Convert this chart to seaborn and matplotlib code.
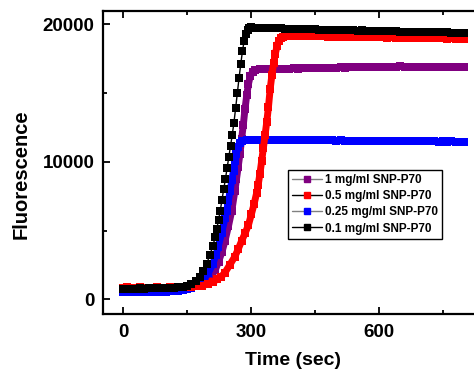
import matplotlib
matplotlib.use("Agg")
import matplotlib.pyplot as plt
from matplotlib.lines import Line2D
from matplotlib.ticker import MultipleLocator
import seaborn as sns

# ---- data: fluorescence (a.u.) versus time (s) ----
plateau_t = list(range(310, 801, 10))
base_t = list(range(0, 131, 10))

t_black = base_t + [140, 150, 160, 170, 180, 188, 196, 204, 210, 216, 220, 224, 228,
                    232, 236, 240, 244, 248, 252, 256, 260, 264, 268, 272, 276, 280,
                    284, 288, 292, 296, 300] + plateau_t
f_black = [780, 790, 780, 790, 800, 790, 800, 800, 810, 800, 810, 820, 850, 880,
           930, 1000, 1120, 1330, 1650, 2050, 2600, 3250, 3850, 4500, 5150, 5800, 6450,
           7250, 8000, 8750, 9550, 10350, 11150, 11950, 12850, 13900, 15000, 16100, 17100, 18050,
           18800, 19300, 19600, 19750, 19780,
           19760, 19740, 19720, 19730, 19700, 19690, 19700, 19680, 19660, 19670,
           19650, 19640, 19650, 19630, 19620, 19600, 19610, 19590, 19580, 19590,
           19570, 19560, 19570, 19550, 19540, 19560, 19530, 19520, 19530, 19510,
           19500, 19490, 19500, 19480, 19470, 19460, 19470, 19450, 19440, 19450,
           19430, 19420, 19430, 19410, 19400, 19410, 19390, 19380, 19390, 19370]

t_purple = base_t + [140, 150, 160, 170, 180, 190, 200, 208, 216, 224, 232, 239, 247,
                     255, 262, 266, 270, 274, 278, 282, 286, 290, 294, 298, 304] + plateau_t
f_purple = [760] * 14 + [800, 850, 920, 1000, 1100, 1250, 1450, 1750, 2120, 2750, 3450, 4250, 5300,
           6450, 7850, 8750, 9650, 10550, 11650, 12700, 13850, 14850, 15650, 16200, 16550,
           16700, 16740, 16730, 16750, 16760, 16740, 16770, 16760, 16780, 16790,
           16770, 16800, 16810, 16790, 16820, 16830, 16810, 16840, 16850, 16830,
           16860, 16850, 16870, 16880, 16860, 16890, 16880, 16900, 16890, 16910,
           16900, 16920, 16900, 16910, 16930, 16910, 16920, 16900, 16920, 16910,
           16900, 16920, 16910, 16900, 16920, 16900, 16910, 16890, 16900, 16900]

t_blue = base_t + [140, 150, 160, 169, 180, 190, 200, 210, 218, 223, 231, 239, 243,
                   247, 251, 255, 259, 263, 266, 270, 274, 280, 290, 300] + plateau_t
f_blue = [560, 550, 560, 550, 560, 560, 550, 560, 570, 560, 570, 580, 600, 630,
          670, 730, 840, 1000, 1250, 1520, 1900, 2550, 3250, 3800, 4800, 5900, 6450,
          7150, 7900, 8650, 9350, 10050, 10600, 11100, 11400, 11530, 11580, 11600,
          11600, 11590, 11600, 11610, 11590, 11600, 11590, 11600, 11580, 11590,
          11580, 11570, 11580, 11570, 11560, 11570, 11550, 11560, 11550, 11540,
          11550, 11540, 11530, 11540, 11530, 11520, 11530, 11520, 11510, 11520,
          11510, 11500, 11510, 11500, 11490, 11500, 11490, 11500, 11480, 11490,
          11480, 11490, 11480, 11470, 11480, 11470, 11480, 11470, 11460, 11470]

t_red = base_t + [140, 150, 160, 170, 184, 200, 210, 220, 230, 239, 250, 262, 270, 278,
                  286, 294, 301, 307, 313, 317, 321, 325, 329, 333, 337, 341, 345, 349,
                  353, 357, 361, 365, 370, 376, 383] + list(range(390, 801, 10))
f_red = [860, 870, 850, 860, 870, 860, 850, 860, 870, 860, 860, 870, 860, 870,
         880, 890, 910, 940, 980, 1130, 1250, 1450, 1650, 1950, 2500, 3100, 3650, 4250,
         4800, 5400, 6200, 6900, 7700, 8350, 9150, 10050, 11000, 11950, 12900, 14000, 15300, 16300,
         17150, 17850, 18400, 18800, 19000, 19100, 19140,
         19150, 19140, 19150, 19130, 19140, 19120, 19130, 19110, 19120, 19100,
         19110, 19090, 19100, 19080, 19090, 19070, 19080, 19060, 19070, 19050,
         19060, 19040, 19050, 19030, 19040, 19020, 19030, 19010, 19020, 19000,
         19010, 18990, 19000, 18980, 18990, 18970, 18980, 18960, 18970, 18950,
         18960, 18940]

labels = ["1 mg/ml SNP-P70", "0.5 mg/ml SNP-P70", "0.25 mg/ml SNP-P70", "0.1 mg/ml SNP-P70"]
colors = ["#800080", "#ff0000", "#0000ff", "#000000"]
legend_line_colors = ["#808080", "#000000", "#808080", "#000000"]

x_ticks = [0, 300, 600]
y_ticks = [0, 10000, 20000]

sns.set_style("ticks")
plt.rcParams["font.family"] = ["Liberation Sans", "DejaVu Sans"]
plt.rcParams["font.weight"] = "bold"
plt.rcParams["axes.labelweight"] = "bold"
for key in ("text.color", "axes.labelcolor", "xtick.color", "ytick.color",
            "xtick.labelcolor", "ytick.labelcolor", "axes.edgecolor"):
    plt.rcParams[key] = "black"

fig = plt.figure(figsize=(4.74, 3.73), dpi=100)
ax = fig.add_axes([0.2173, 0.1582, 0.8017, 0.8123])

# drawing order: purple, blue, red, black on top
series = [
    (t_purple, f_purple, colors[0], 5.0, 2),
    (t_blue, f_blue, colors[2], 5.0, 3),
    (t_red, f_red, colors[1], 5.0, 4),
    (t_black, f_black, colors[3], 1.0, 5),
]
for t, f, c, lw, z in series:
    sns.lineplot(x=t, y=f, ax=ax, color=c, linewidth=lw, marker="s", markersize=5.6,
                 markeredgewidth=0, markerfacecolor=c, sort=False, estimator=None,
                 legend=False, zorder=z)

ax.set_xlim(-47, 844)
ax.set_ylim(-1060, 20960)
ax.set_xticks(x_ticks)
ax.set_yticks(y_ticks)
ax.xaxis.set_minor_locator(MultipleLocator(150))
ax.yaxis.set_minor_locator(MultipleLocator(5000))

for s in ax.spines.values():
    s.set_linewidth(1.6)
    s.set_color("black")

ax.tick_params(which="both", direction="in", top=True, right=True, width=1.3,
               color="black", labelcolor="black")
ax.tick_params(which="major", length=5.2, labelsize=13.5)
ax.tick_params(axis="y", which="major", pad=6)
ax.tick_params(axis="x", which="major", pad=7)
ax.tick_params(which="minor", length=2.8)

ax.set_xlabel("Time (sec)", fontsize=14, fontweight="bold", color="black")
ax.set_ylabel("Fluorescence", fontsize=14.5, fontweight="bold", color="black")
ax.xaxis.set_label_coords(0.5, -0.125)
ax.yaxis.set_label_coords(-0.19, 0.46)

handles = [Line2D([], [], color=lc, linewidth=1.0, marker="s", markersize=5,
                  markerfacecolor=c, markeredgecolor=c)
           for c, lc in zip(colors, legend_line_colors)]
leg = ax.legend(handles, labels, loc="upper left", bbox_to_anchor=(0.487, 0.475),
                borderaxespad=0, frameon=True, fancybox=False, framealpha=1,
                edgecolor="black", handlelength=2.5, handletextpad=0.3,
                labelspacing=0.35, borderpad=0.35, labelcolor="black",
                prop={"weight": "bold", "size": 8.5})
leg.get_frame().set_linewidth(1.0)

fig.savefig("out.png", dpi=100)
